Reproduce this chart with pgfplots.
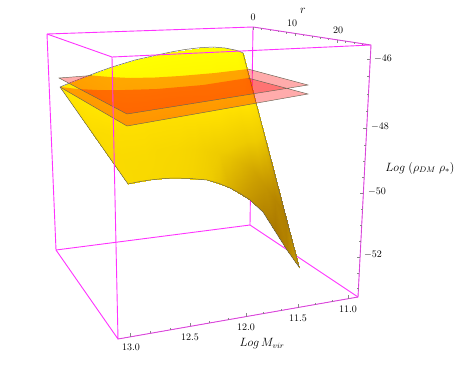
\documentclass[border=0pt]{standalone}
\usepackage{pgfplots}
\pgfplotsset{compat=1.18}
\definecolor{boxm}{RGB}{255,50,255}
\definecolor{tickg}{RGB}{135,135,135}
\definecolor{labg}{RGB}{105,105,105}
\definecolor{edgeg}{RGB}{105,100,85}
\begin{document}
\begin{tikzpicture}
\path[use as bounding box] (0,0) rectangle (463pt,365pt);
\begin{axis}[at={(0,0)},anchor=south west,scale only axis,width=463pt,height=365pt,
  xmin=0,xmax=463,ymin=0,ymax=365,y dir=reverse,hide axis,clip=false,
  unbounded coords=jump,
  colormap={gold}{rgb255=(255,255,0) rgb255=(255,225,0) rgb255=(238,203,0) rgb255=(205,160,0) rgb255=(170,120,0)},
  point meta min=0,point meta max=1,
  every node/.style={inner sep=0pt}]
% back edges of the box
\addplot[boxm,line width=0.9pt,no marks] coordinates {(47,34) (253,27) (nan,nan) (47,34) (56,250) (nan,nan) (253,27) (250,225) (nan,nan) (56,250) (250,225) (358,297)};
% surface
\addplot[surf,shader=interp,mesh/rows=15,mesh/cols=5,point meta=explicit] table[x=x,y=y,meta=m] {
x y m
60 87 .2
77 111.25 .27
94 135.5 .32
111 159.75 .33
128 184 .33
72 82 .15
88.75 106.9 .22
105.5 131.85 .3
122.25 156.8 .33
139 181.7 .34
85 77 .1
101.25 102.75 .18
117.5 128.5 .28
133.75 154.25 .33
150 180 .35
98 72 .05
113.75 98.7 .13
129.5 125.4 .27
145.25 152.1 .33
161 178.8 .36
112 67 0
127.25 94.75 .1
142.5 122.5 .27
157.75 150.25 .35
173 178 .37
135 60 0
148.75 89.6 .08
162.5 119.25 .27
176.25 148.9 .36
190 178.5 .4
157 55 0
169.5 86.25 .08
182 117.5 .27
194.5 148.75 .4
207 180 .47
171 52 0
183 84.9 .08
195 117.75 .27
207 150.6 .45
219 183.5 .55
185 49.5 0
196.25 84.1 .08
207.5 118.75 .28
218.75 153.4 .5
230 188 .66
199 47.8 0
209.25 84.2 .08
219.5 120.65 .3
229.75 157.1 .55
240 193.5 .74
213 47 0
222.25 85.25 .1
231.5 123.5 .35
240.75 161.75 .62
250 200 .82
225 48 0
234.5 89 .12
244 130 .42
253.5 171 .72
263 212 .92
235 50 0
245 95.25 .15
255 140.5 .5
265 185.75 .82
275 231 1
240 51.5 .05
251.75 101.1 .22
263.5 150.75 .6
275.25 200.4 .92
287 250 .95
243 53 .1
257 106.5 .3
271 160 .7
285 213.5 .95
299 267 .75
};
\addplot[edgeg,line width=0.5pt,no marks] coordinates {(60,87) (72,82) (85,77) (98,72) (112,67) (135,60) (157,55) (171,52) (185,49.5) (199,47.8) (213,47) (225,48) (235,50) (240,51.5) (243,53) (257,106.5) (271,160) (285,213.5) (299,267) (287,250) (275,231) (263,212) (250,200) (240,193.5) (230,188) (219,183.5) (207,180) (190,178.5) (173,178) (161,178.8) (150,180) (139,181.7) (128,184) (60,87)};
% planes, the parts in front of the surface
\addplot[draw=none,fill=red,fill opacity=0.33,no marks] coordinates {(59,78) (92,75.5) (110,77) (130,78) (155,77.5) (180,76) (215,73) (248,69) (308,85) (127,114)} -- cycle;
\addplot[draw=none,fill=red,fill opacity=0.33,no marks] coordinates {(60,87) (78,89) (97,90) (125,90) (157,89) (203,85) (248,78) (308,94) (127,126)} -- cycle;
\addplot[edgeg,line width=0.45pt,no marks] coordinates {(92,75.5) (59,78) (127,114) (308,85) (248,69) (nan,nan) (60,87) (127,126) (308,94) (248,78)};
% front edges of the box
\addplot[boxm,line width=0.9pt,no marks] coordinates {(47,34) (112,57) (371,45) (358,297) (118,339) (112,57) (nan,nan) (56,250) (118,339) (nan,nan) (253,27) (371,45)};
\addplot[gray,line width=0.35pt,opacity=0.6,no marks] coordinates {(253,27) (371,45) (358,297) (118,339)};
% ticks
\addplot[tickg,line width=0.45pt,no marks] coordinates {
(370.3,59) (366.8,59) (nan,nan) (369.4,76) (367.4,76) (nan,nan) (368.5,94) (366.5,94) (nan,nan) (367.6,111) (365.6,111) (nan,nan)
(366.7,128) (363.2,128) (nan,nan) (365.8,145) (363.8,145) (nan,nan) (365,161) (363,161) (nan,nan) (364.2,177) (362.2,177) (nan,nan)
(363.4,193) (359.9,193) (nan,nan) (362.5,209) (360.5,209) (nan,nan) (361.7,225) (359.7,225) (nan,nan) (360.9,241) (358.9,241) (nan,nan)
(360.1,257) (356.6,257) (nan,nan) (359.2,273) (357.2,273) (nan,nan) (358.5,288) (356.5,288) (nan,nan)
(130,336.9) (130,333.4) (nan,nan) (150,333.4) (150,331.4) (nan,nan) (170,329.9) (170,327.9) (nan,nan)
(190,326.4) (190,322.9) (nan,nan) (209,323.1) (209,321.1) (nan,nan) (228,319.8) (228,317.8) (nan,nan)
(246,316.6) (246,313.1) (nan,nan) (263,313.6) (263,311.6) (nan,nan) (281,310.5) (281,308.5) (nan,nan)
(298,307.5) (298,304) (nan,nan) (315,304.5) (315,302.5) (nan,nan) (332,301.6) (332,299.6) (nan,nan) (348,298.8) (348,295.3) (nan,nan)
(253,27) (253,30) (nan,nan) (261.4,28.3) (261.4,29.8) (nan,nan) (269.8,29.6) (269.8,31.1) (nan,nan) (278.2,30.8) (278.2,32.3) (nan,nan) (286.6,32.1) (286.6,33.6) (nan,nan)
(295,33.4) (295,36.4) (nan,nan) (303.4,34.7) (303.4,36.2) (nan,nan) (311.8,36) (311.8,37.5) (nan,nan) (320.2,37.2) (320.2,38.7) (nan,nan) (328.6,38.5) (328.6,40) (nan,nan)
(337,39.8) (337,42.8) (nan,nan) (345.4,41.1) (345.4,42.6) (nan,nan) (353.8,42.4) (353.8,43.9) (nan,nan) (362.2,43.7) (362.2,45.2)
};
% tick labels
\pgfplotsset{every node/.append style={text=labg,font=\fontsize{10}{12}\selectfont}}
\node at (axis cs:253,17) {0};
\node at (axis cs:292,23) {10};
\node at (axis cs:338,30) {20};
\node at (axis cs:383,59) {$-46$};
\node at (axis cs:380,127) {$-48$};
\node at (axis cs:377,192) {$-50$};
\node at (axis cs:373,255) {$-52$};
\node at (axis cs:131,347) {13.0};
\node at (axis cs:190,337) {12.5};
\node at (axis cs:246,327) {12.0};
\node at (axis cs:298,318) {11.5};
\node at (axis cs:348,309) {11.0};
\node[font=\fontsize{12.5}{14}\selectfont] at (axis cs:303,11) {$r$};
\node[font=\fontsize{11.7}{14}\selectfont] at (axis cs:262,344) {$Log\,M_{vir}$};
\node[font=\fontsize{12}{14}\selectfont] at (axis cs:420,168) {$Log\;(\rho_{DM}\;\rho_{*})$};
\end{axis}
\end{tikzpicture}
\end{document}
